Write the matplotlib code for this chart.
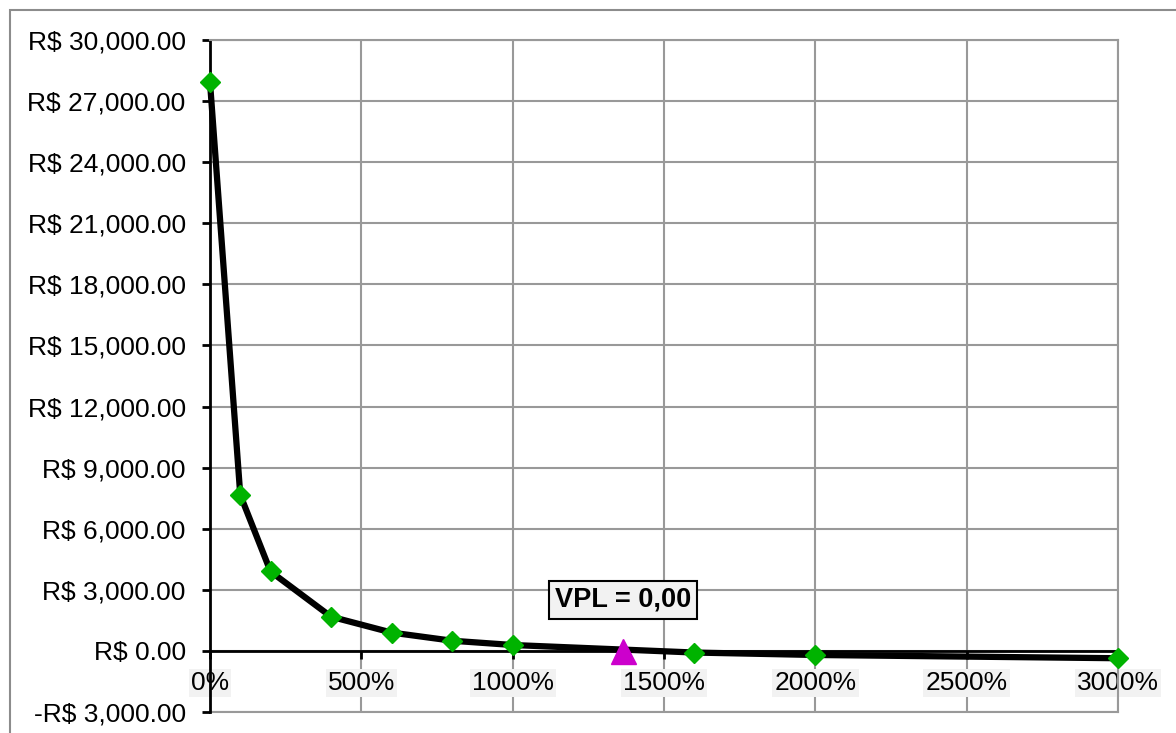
import matplotlib
matplotlib.use("Agg")
import matplotlib.pyplot as plt
from matplotlib.ticker import FuncFormatter, MultipleLocator
from matplotlib.patches import Rectangle

plt.rcParams['font.family'] = ['Liberation Sans', 'DejaVu Sans']

# Data
rates_pct = [0, 100, 200, 400, 600, 800, 1000, 1600, 2000, 3000]
npv_values = [27930, 7660, 3900, 1680, 900, 500, 290, -80, -200, -360]
irr_pct = 1365
irr_npv = 0
annotation_text = "VPL = 0,00"

y_min, y_max, y_step = -3000, 30000, 3000
x_min, x_max, x_step = 0, 3000, 500

fig = plt.figure(figsize=(11.76, 7.33), dpi=100)
ax = fig.add_axes([210/1176, 1 - 712/733, (1118 - 210)/1176, (712 - 40)/733])

grid_col = '#999999'
ax.set_xlim(x_min, x_max)
ax.set_ylim(y_min, y_max)
ax.xaxis.set_major_locator(MultipleLocator(x_step))
ax.yaxis.set_major_locator(MultipleLocator(y_step))
ax.grid(True, color=grid_col, linewidth=1.5, zorder=0)
ax.set_axisbelow(True)

for s in ['top', 'right']:
    ax.spines[s].set_color(grid_col)
    ax.spines[s].set_linewidth(1.5)
ax.spines['left'].set_color('black')
ax.spines['left'].set_linewidth(2)
ax.spines['bottom'].set_position(('data', 0))
ax.spines['bottom'].set_color('black')
ax.spines['bottom'].set_linewidth(2)
ax.spines['bottom'].set_zorder(1.5)
ax.axhline(y_min, color=grid_col, linewidth=1.5, clip_on=False, zorder=0)


def yfmt(v, pos):
    s = f"R$ {abs(v):,.2f}"
    return "-" + s if v < 0 else s


ax.yaxis.set_major_formatter(FuncFormatter(yfmt))
ax.xaxis.set_major_formatter(FuncFormatter(lambda v, p: f"{int(round(v))}%"))

ax.tick_params(axis='y', direction='out', length=5.5, width=2, color='black',
               labelsize=19, pad=12)
ax.tick_params(axis='x', direction='out', length=5.5, width=2, color='black',
               labelsize=19, pad=9)
for lbl in ax.get_xticklabels():
    lbl.set_bbox(dict(facecolor='#f2f2f2', edgecolor='none', pad=1.5))

ax.plot(rates_pct, npv_values, color='black', linewidth=4.5, zorder=3,
        solid_joinstyle='round', clip_on=False)
ax.plot(rates_pct, npv_values, linestyle='none', marker='D', markersize=10.5,
        markerfacecolor='#00b300', markeredgecolor='#00b300', zorder=4,
        clip_on=False)
ax.plot([irr_pct], [irr_npv], linestyle='none', marker='^', markersize=18,
        markerfacecolor='#cc00cc', markeredgecolor='#cc00cc', zorder=5,
        clip_on=False)

ax.annotate(annotation_text, xy=(irr_pct, irr_npv), xytext=(0, 51),
            textcoords='offset pixels', ha='center', va='center',
            fontsize=19.5, fontweight='bold',
            bbox=dict(boxstyle='square,pad=0.22', facecolor='#f2f2f2',
                      edgecolor='black', linewidth=1.5))

fig.add_artist(Rectangle((9.5/1176, -0.1), 1.2, 1 - 10/733 + 0.1,
                         transform=fig.transFigure, fill=False,
                         edgecolor='#8c8c8c', linewidth=1.5))

fig.savefig('out.png', dpi=100)
